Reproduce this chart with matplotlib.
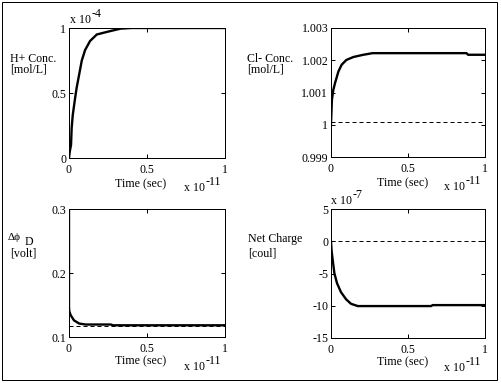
import matplotlib

matplotlib.use("Agg")
import matplotlib.pyplot as plt
from matplotlib.patches import Rectangle

W, H = 502, 383
FONT = ["Liberation Serif", "DejaVu Serif"]
FS = 8.6

# time axis is in units of 1e-11 s
t_h = [0, 0.005, 0.013, 0.017, 0.024, 0.039, 0.049, 0.06, 0.082, 0.103,
       0.135, 0.178, 0.243, 0.33, 0.4, 1.0]
h_conc = [0, 0.05, 0.1, 0.23, 0.33, 0.46, 0.54, 0.61, 0.75, 0.83,
          0.9, 0.95, 0.97, 0.995, 1.0, 1.0]          # x 1e-4 mol/L

t_cl = [0, 0.003, 0.006, 0.015, 0.026, 0.048, 0.069, 0.10, 0.145, 0.21,
        0.27, 0.88, 0.89, 1.0]
cl_conc = [1.00004, 1.0004, 1.00077, 1.00108, 1.00129, 1.00165, 1.00186,
           1.00201, 1.0021, 1.00217, 1.00222, 1.00222, 1.00217, 1.00217]
cl_ref = 1.0001

t_phi = [0, 0, 0.002, 0.011, 0.032, 0.065, 0.108, 0.27, 0.28, 1.0]
phi = [0.3, 0.147, 0.14, 0.134, 0.126, 0.121, 0.1195, 0.1195, 0.1183, 0.1183]
phi_ref = 0.1175

t_q = [0, 0.004, 0.011, 0.022, 0.039, 0.065, 0.098, 0.13, 0.174, 0.24,
       0.65, 0.66, 1.0]
charge = [0, -1.5, -2.9, -4.97, -6.5, -7.9, -9.0, -9.7, -10.05, -10.05,
          -10.05, -9.9, -9.9]                          # x 1e-7 coul
q_ref = 0.0

x_ticks = [0, 0.5, 1]
x_labels = ["0", "0.5", "1"]


def px_axes(fig, x0, y0, x1, y1):
    return fig.add_axes([x0 / W, 1 - y1 / H, (x1 - x0) / W, (y1 - y0) / H])


def ftext(fig, x, y, s, size=FS, **kw):
    fig.text(x / W, 1 - y / H, s, family=FONT, fontsize=size,
             va="baseline", **kw)


def style(ax, ylim, yticks, ylabels):
    ax.set_xlim(0, 1)
    ax.set_ylim(*ylim)
    ax.set_xticks(x_ticks)
    ax.set_xticklabels(x_labels)
    ax.set_yticks(yticks)
    ax.set_yticklabels(ylabels)
    ax.tick_params(direction="in", top=True, right=True, length=3,
                   width=0.72, labelsize=FS)
    ax.tick_params(axis="y", pad=2)
    ax.tick_params(axis="x", pad=4)
    for lab in ax.get_xticklabels() + ax.get_yticklabels():
        lab.set_family(FONT)
    for sp in ax.spines.values():
        sp.set_linewidth(0.72)


def time_label(fig, xc, xr, y_bottom, dy):
    ftext(fig, xc, y_bottom + dy, "Time (sec)", ha="center")
    ftext(fig, xr - 20, y_bottom + 33, "x 10", ha="right")
    ftext(fig, xr - 19, y_bottom + 27, "-11")


fig = plt.figure(figsize=(W / 100, H / 100), dpi=100)
fig.patches.append(Rectangle((2 / W, 3 / H), 495 / W, 378 / H,
                             transform=fig.transFigure, fill=False,
                             edgecolor="black", linewidth=0.72))

lw = 1.7
dash = dict(color="black", linewidth=0.72, linestyle=(0, (4, 3)))

# H+ concentration
ax1 = px_axes(fig, 69, 28, 225, 158)
ax1.plot(t_h, h_conc, color="black", linewidth=lw)
style(ax1, (0, 1), [0, 0.5, 1], ["0", "0.5", "1"])
ftext(fig, 10, 62, "H+ Conc.")
ftext(fig, 10, 73, "[mol/L]")
ftext(fig, 70, 23, "x 10")
ftext(fig, 92, 17, "-4")
time_label(fig, 141, 225, 158, 29)

# Cl- concentration
ax2 = px_axes(fig, 331, 28, 485, 157)
ax2.axhline(cl_ref, **dash)
ax2.plot(t_cl, cl_conc, color="black", linewidth=lw)
style(ax2, (0.999, 1.003), [0.999, 1.0, 1.001, 1.002, 1.003],
      ["0.999", "1", "1.001", "1.002", "1.003"])
ftext(fig, 247, 62, "Cl- Conc.")
ftext(fig, 247, 73, "[mol/L]")
time_label(fig, 403, 485, 157, 29)

# diffusion potential
ax3 = px_axes(fig, 69, 209, 225, 337)
ax3.axhline(phi_ref, **dash)
ax3.plot(t_phi, phi, color="black", linewidth=lw)
style(ax3, (0.1, 0.3), [0.1, 0.2, 0.3], ["0.1", "0.2", "0.3"])
ftext(fig, 8, 240, "\u0394\u03d5", size=8)
ftext(fig, 25, 245, "D")
ftext(fig, 10, 256, "[volt]")
time_label(fig, 141, 225, 337, 27)

# net charge
ax4 = px_axes(fig, 331, 209, 485, 338)
ax4.axhline(q_ref, **dash)
ax4.plot(t_q, charge, color="black", linewidth=lw)
style(ax4, (-15, 5), [-15, -10, -5, 0, 5], ["-15", "-10", "-5", "0", "5"])
ftext(fig, 248, 242, "Net Charge")
ftext(fig, 248, 256, "[coul]")
ftext(fig, 331, 204, "x 10")
ftext(fig, 353, 198, "-7")
time_label(fig, 403, 485, 338, 27)

fig.savefig("out.png", dpi=100)
